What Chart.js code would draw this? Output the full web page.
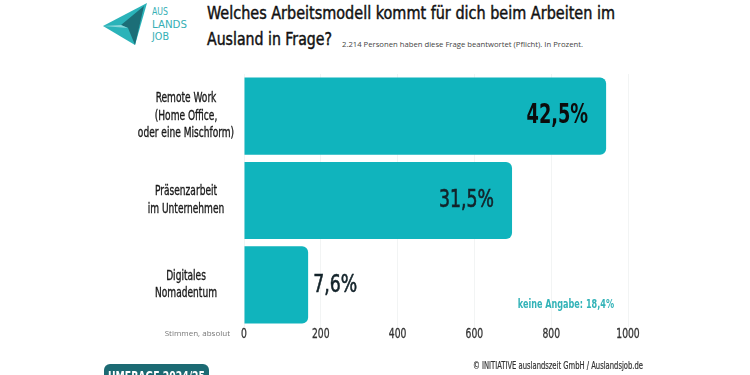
<!DOCTYPE html>
<html>
<head>
<meta charset="utf-8">
<script src="https://cdn.jsdelivr.net/npm/chart.js@4"></script>
<style>
  html,body{margin:0;padding:0;background:#fff;overflow:hidden;}
  body{width:750px;height:375px;position:relative;font-family:"DejaVu Sans Condensed","DejaVu Sans",sans-serif;}
  #chartBox{position:absolute;left:0;top:0;width:750px;height:375px;}
  .fit{position:absolute;white-space:nowrap;transform-origin:left top;}
  .title{left:207px;color:#111;font-size:18px;line-height:18px;-webkit-text-stroke:0.45px #111;}
  .sub{left:342px;top:40px;font-size:8px;line-height:8px;color:#444;font-family:"Open Sans",sans-serif;}
  .logoTxt{left:152px;color:#36afb5;font-size:11px;line-height:11px;}
  .footer{left:473px;top:361px;font-size:10px;line-height:10px;color:#333;-webkit-text-stroke:0.2px #333;}
  .badge{position:absolute;left:104px;top:364px;width:105px;height:30px;background:#1c6a73;border-radius:6px;}
  .badgeTxt{left:108px;top:369px;color:#fff;font-weight:bold;font-size:14px;line-height:14px;}
</style>
</head>
<body>
<svg style="position:absolute;left:0;top:0" width="200" height="50">
  <polygon points="103,26 147,3 135,45" fill="#2bb3b9"/>
  <polygon points="121,25 144,6 135,45 128,28" fill="#1c6e77"/>
  <polygon points="103,26 121,25 128,28" fill="#8ad6d9"/>
</svg>
<div class="fit logoTxt" style="top:6px" data-w="16">AUS</div>
<div class="fit logoTxt" style="top:19px" data-w="35">LANDS</div>
<div class="fit logoTxt" style="top:31px" data-w="17">JOB</div>
<div class="fit title" style="top:4px" data-w="408">Welches Arbeitsmodell kommt für dich beim Arbeiten im</div>
<div class="fit title" style="top:30px" data-w="125">Ausland in Frage?</div>
<div class="fit sub" data-w="241">2.214 Personen haben diese Frage beantwortet (Pflicht). In Prozent.</div>
<div id="chartBox"><canvas id="c" width="750" height="375"></canvas></div>
<div class="fit footer" data-w="170">© INITIATIVE auslandszeit GmbH / Auslandsjob.de</div>
<div class="badge"></div>
<div class="fit badgeTxt" data-w="97">UMFRAGE 2024/25</div>
<script>
const categories=[
  ['Remote Work','(Home Office,','oder eine Mischform)'],
  ['Präsenzarbeit','im Unternehmen'],
  ['Digitales','Nomadentum']
];
const votes=[943,698,167];
const shares=['42,5%','31,5%','7,6%'];
const xTicks=[0,200,400,600,800,1000];
const axisNote='Stimmen, absolut';
const noAnswer='keine Angabe: 18,4%';

// squeeze html text to the width it has in the picture
document.querySelectorAll('.fit').forEach(el=>{
  const w=el.getBoundingClientRect().width;
  el.style.transform='scaleX('+(el.dataset.w/w)+')';
});

const FONT='"DejaVu Sans Condensed","DejaVu Sans",sans-serif';

// condensed text on canvas, optional thin stroke to make it heavier
const narrowText=(ctx,txt,x,y,align,sx,stroke)=>{
  ctx.save();
  ctx.translate(x,y);
  ctx.scale(sx,1);
  ctx.textAlign=align;
  ctx.fillText(txt,0,0);
  if(stroke){
    ctx.strokeStyle=ctx.fillStyle;
    ctx.lineWidth=stroke;
    ctx.strokeText(txt,0,0);
  }
  ctx.restore();
};

const labelsPlugin={
  id:'labelsPlugin',
  afterDatasetsDraw(chart){
    const ctx=chart.ctx;
    const meta=chart.getDatasetMeta(0);
    const yScale=chart.scales.y;
    const xScale=chart.scales.x;
    const area=chart.chartArea;
    const maxVal=Math.max(...votes);
    ctx.save();
    ctx.textBaseline='middle';
    // category labels
    ctx.fillStyle='#1a1a1a';
    ctx.font='14px '+FONT;
    categories.forEach((lines,i)=>{
      const yc=yScale.getPixelForValue(i);
      lines.forEach((ln,k)=>{
        narrowText(ctx,ln,186,yc+(k-(lines.length-1)/2)*17.5,'center',0.72,0.35);
      });
    });
    // values
    meta.data.forEach((bar,i)=>{
      const bold=votes[i]===maxVal;
      ctx.font=(bold?'bold 27px ':'25px ')+FONT;
      ctx.fillStyle=bold?'#0c0c0c':'#13232a';
      const sx=bold?0.73:0.77;
      const w=ctx.measureText(shares[i]).width*sx;
      if(bar.x-bar.base>w+40){
        narrowText(ctx,shares[i],bar.x-18,bar.y,'right',sx,bold?0:0.6);
      }else{
        narrowText(ctx,shares[i],bar.x+5,bar.y+1,'left',sx,0.6);
      }
    });
    // tick labels
    ctx.font='13.5px '+FONT;
    ctx.fillStyle='#333';
    xScale.ticks.forEach(t=>{
      narrowText(ctx,String(t.value),xScale.getPixelForValue(t.value),area.bottom+7,'center',0.76,0.3);
    });
    // notes
    ctx.font='8px "Open Sans",sans-serif';
    ctx.fillStyle='#777';
    ctx.textAlign='right';
    ctx.fillText(axisNote,230,area.bottom+7);
    ctx.font='bold 12px '+FONT;
    ctx.fillStyle='#33b3b8';
    narrowText(ctx,noAnswer,614,305,'right',0.75);
    ctx.restore();
  }
};

new Chart(document.getElementById('c'),{
  type:'bar',
  data:{
    labels:categories.map(c=>c.join(' ')),
    datasets:[{
      data:votes,
      backgroundColor:'#10b4bd',
      borderRadius:6,
      borderSkipped:'start',
      barPercentage:0.915,
      categoryPercentage:1
    }]
  },
  options:{
    indexAxis:'y',
    responsive:false,
    animation:false,
    layout:{padding:{left:244,right:122,top:74,bottom:0}},
    plugins:{legend:{display:false},tooltip:{enabled:false}},
    scales:{
      x:{
        min:0,max:1000,
        afterBuildTicks(s){s.ticks=xTicks.map(v=>({value:v}));},
        afterFit(s){s.height=48;},
        grid:{color:'#f2f4f4',drawTicks:false},
        border:{display:false},
        ticks:{display:false}
      },
      y:{display:false}
    }
  },
  plugins:[labelsPlugin]
});
</script>
</body>
</html>
